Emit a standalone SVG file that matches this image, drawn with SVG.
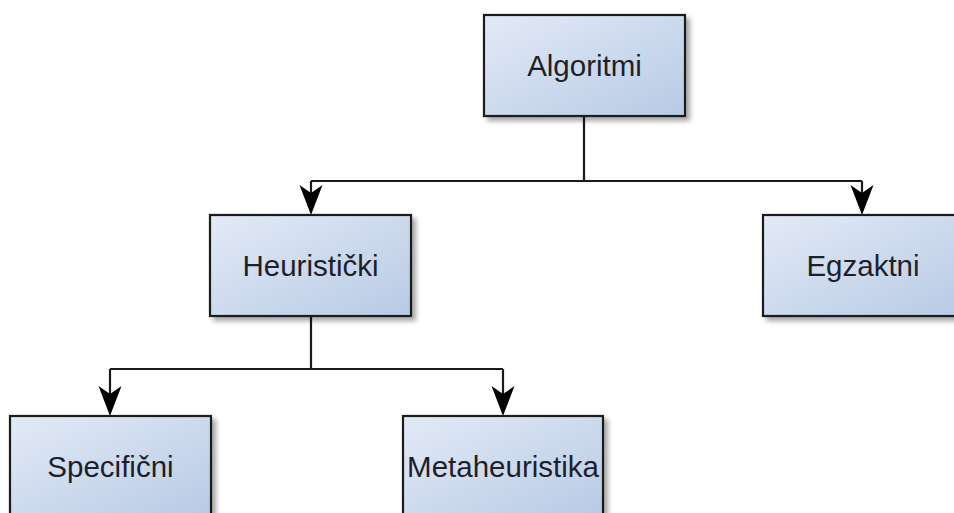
<svg xmlns="http://www.w3.org/2000/svg" width="954" height="513" viewBox="0 0 954 513">
  <defs>
    <linearGradient id="fill" x1="0" y1="0" x2="1" y2="1">
      <stop offset="0" stop-color="#e3eaf6"/>
      <stop offset="1" stop-color="#b7cae5"/>
    </linearGradient>
    <filter id="shadow" x="-10%" y="-10%" width="130%" height="130%">
      <feGaussianBlur in="SourceAlpha" stdDeviation="2.5"/>
      <feOffset dx="4" dy="4" result="b"/>
      <feComponentTransfer><feFuncA type="linear" slope="0.35"/></feComponentTransfer>
      <feMerge><feMergeNode/><feMergeNode in="SourceGraphic"/></feMerge>
    </filter>
    <marker id="arrow" markerUnits="userSpaceOnUse" markerWidth="30" markerHeight="30" viewBox="-15 -30 30 32" refX="0" refY="0" orient="auto-start-reverse">
      <path d="M0,0 L-11.5,-30 L0,-22 L11.5,-30 Z" fill="#000" transform="rotate(-90)"/>
    </marker>
  </defs>
  <style>
    .box { fill: url(#fill); stroke: #1a1a1a; stroke-width: 2.2; filter: url(#shadow); }
    .lbl { font-family: "Liberation Sans", Arial, sans-serif; font-size: 29.5px; fill: #1f1f2a; text-anchor: middle; }
    .edge { fill: none; stroke: #1a1a1a; stroke-width: 2.2; }
    .head { fill: #000; }
  </style>
  <rect width="954" height="513" fill="#ffffff"/>
  <g id="connectors">
    <path class="edge" d="M584,116 V181 M311,181 H862"/>
    <path class="edge" d="M311,181 V195 M862,181 V195"/>
    <path class="edge" d="M311,316 V369 M110,369 H503"/>
    <path class="edge" d="M110,369 V396 M503,369 V396"/>
    <path class="head" d="M311,215 L299.5,185 L311,193 L322.5,185 Z"/>
    <path class="head" d="M862,215 L850.5,185 L862,193 L873.5,185 Z"/>
    <path class="head" d="M110,416 L98.5,386 L110,394 L121.5,386 Z"/>
    <path class="head" d="M503,416 L491.5,386 L503,394 L514.5,386 Z"/>
  </g>
  <g id="node-algoritmi">
    <rect class="box" x="484" y="15" width="201" height="101"/>
    <text class="lbl" x="584.5" y="76">Algoritmi</text>
  </g>
  <g id="node-heuristicki">
    <rect class="box" x="210" y="215" width="201" height="101"/>
    <text class="lbl" x="310.5" y="276">Heuristički</text>
  </g>
  <g id="node-egzaktni">
    <rect class="box" x="763" y="215" width="201" height="101"/>
    <text class="lbl" x="863" y="276">Egzaktni</text>
  </g>
  <g id="node-specificni">
    <rect class="box" x="10" y="416" width="201" height="101"/>
    <text class="lbl" x="110.5" y="477">Specifični</text>
  </g>
  <g id="node-metaheuristika">
    <rect class="box" x="403" y="416" width="200" height="101"/>
    <text class="lbl" x="503" y="477">Metaheuristika</text>
  </g>
</svg>
